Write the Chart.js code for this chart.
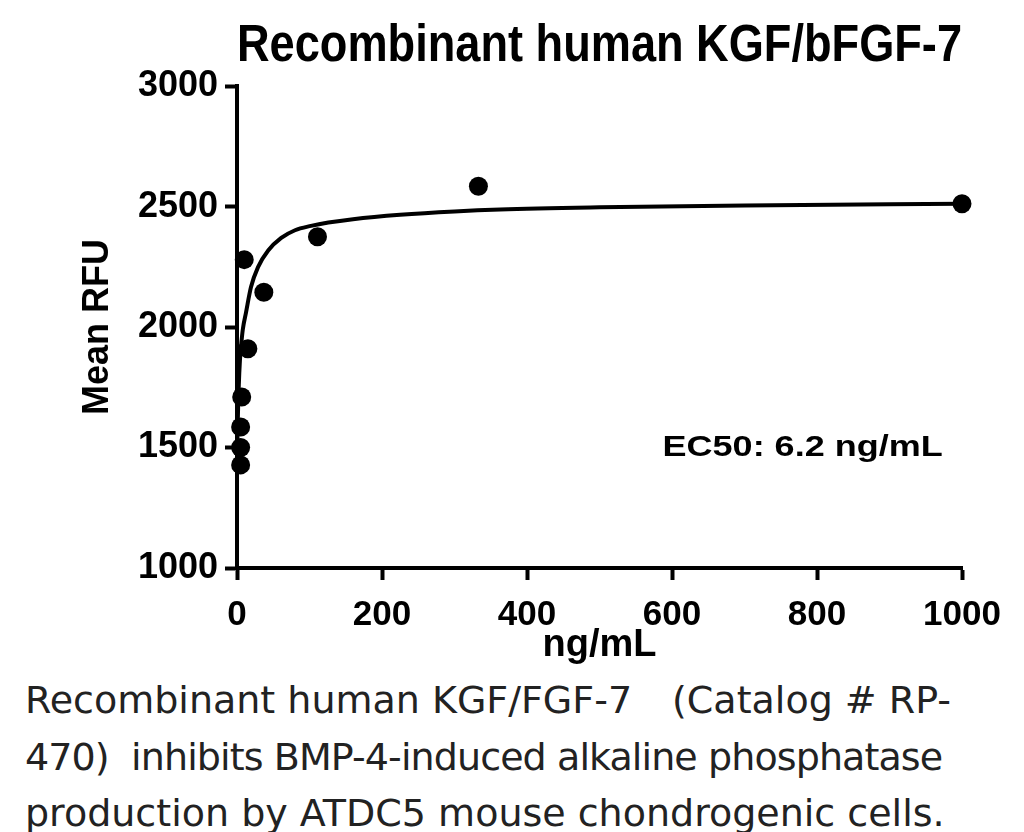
<!DOCTYPE html>
<html>
<head>
<meta charset="utf-8">
<script src="https://cdn.jsdelivr.net/npm/chart.js@4.4.1/dist/chart.umd.min.js"></script>
<style>
  html, body { margin: 0; padding: 0; background: #fff; }
  #wrap { position: relative; width: 1024px; height: 832px; overflow: hidden; }
  #chartBox { position: absolute; left: 0; top: 0; width: 1024px; height: 668px; }
  .cap { position: absolute; left: 25px; font-family: "DejaVu Sans", sans-serif; font-size: 38px; color: #222; white-space: pre; letter-spacing: 0; }
</style>
</head>
<body>
<div id="wrap">
  <div id="chartBox"><canvas id="kgfChart"></canvas></div>
  <div class="cap" style="top: 678px;">Recombinant human KGF/FGF-7</div>
  <div class="cap" style="top: 678px; left: 672px;">(Catalog # RP-</div>
  <div class="cap" style="top: 735px; letter-spacing: -0.9px;">470)  inhibits BMP-4-induced alkaline phosphatase</div>
  <div class="cap" style="top: 791px;">production by ATDC5 mouse chondrogenic cells.</div>
</div>
<script>
// measured points (ng/mL vs mean RFU)
const doses = [1000, 333, 111, 37, 15, 10, 6.5, 5, 5, 5];
const rfu = [2512, 2585, 2375, 2145, 1910, 2280, 1710, 1585, 1500, 1428];

// fitted curve
const fitDoses = [0, 1, 2.5, 4, 5.5, 8, 12.4, 19.3, 29, 43, 61, 80, 102, 126, 160, 225, 300, 363, 500, 700, 1000];
const fitRfu = [1420, 1600, 1760, 1860, 1917, 1990, 2060, 2166, 2249, 2318, 2370, 2402, 2420, 2434, 2448, 2466, 2480, 2488, 2497, 2505, 2512];

const xTicks = [0, 200, 400, 600, 800, 1000];
const yTicks = [1000, 1500, 2000, 2500, 3000];

const FONT = '"Liberation Sans", Arial, sans-serif';

const ec50Label = {
    id: 'ec50Label',
    afterDraw(chart) {
        const { ctx, scales } = chart;
        ctx.save();
        ctx.font = 'bold 30px ' + FONT;
        ctx.fillStyle = '#000';
        ctx.textBaseline = 'middle';
        ctx.translate(scales.x.getPixelForValue(587), scales.y.getPixelForValue(1500));
        ctx.scale(1.2, 1);
        ctx.fillText('EC50: 6.2 ng/mL', 0, 0);
        ctx.restore();
    }
};

new Chart(document.getElementById('kgfChart'), {
    type: 'line',
    data: {
        datasets: [
            {
                label: 'fit',
                data: fitDoses.map((d, i) => ({ x: d, y: fitRfu[i] })),
                borderColor: '#000',
                borderWidth: 4,
                pointRadius: 0,
                cubicInterpolationMode: 'monotone',
                fill: false,
            },
            {
                label: 'data',
                data: doses.map((d, i) => ({ x: d, y: rfu[i] })),
                showLine: false,
                pointRadius: 9.5,
                pointBackgroundColor: '#000',
                pointBorderColor: '#000',
                pointBorderWidth: 0,
            }
        ]
    },
    options: {
        responsive: true,
        maintainAspectRatio: false,
        animation: false,
        clip: false,
        layout: { padding: { left: 0, right: 62, top: 0, bottom: 0 } },
        plugins: {
            legend: { display: false },
            tooltip: { enabled: false },
            title: {
                display: true,
                fullSize: false,
                text: 'Recombinant human KGF/bFGF-7',
                color: '#000',
                font: { family: FONT, size: 51, weight: 'bold' },
                padding: { top: 16, bottom: 9 }
            }
        },
        scales: {
            x: {
                type: 'linear',
                min: 0,
                max: 1000,
                afterBuildTicks: (s) => { s.ticks = xTicks.map(v => ({ value: v })); },
                afterFit: (s) => { s.height = 100; },
                ticks: { color: '#000', font: { family: FONT, size: 35, weight: 'bold' }, padding: 14, maxRotation: 0, callback: v => String(v) },
                grid: { drawOnChartArea: false, drawTicks: true, tickLength: 12, tickWidth: 4, tickColor: '#000' },
                border: { display: true, color: '#000', width: 4 },
                title: { display: true, text: 'ng/mL', color: '#000', font: { family: FONT, size: 38, weight: 'bold' }, padding: { top: 0, bottom: 0 } }
            },
            y: {
                type: 'linear',
                min: 1000,
                max: 3000,
                afterBuildTicks: (s) => { s.ticks = yTicks.map(v => ({ value: v })); },
                afterFit: (s) => { s.width = 237; },
                ticks: { color: '#000', font: { family: FONT, size: 36, weight: 'bold' }, padding: 7, callback: v => String(v) },
                grid: { drawOnChartArea: false, drawTicks: true, tickLength: 12, tickWidth: 4, tickColor: '#000' },
                border: { display: true, color: '#000', width: 4 },
                title: { display: true, text: 'Mean RFU', color: '#000', font: { family: FONT, size: 36, weight: 'bold' }, padding: { top: 76, bottom: 0 } }
            }
        }
    },
    plugins: [ec50Label]
});
</script>
</body>
</html>
